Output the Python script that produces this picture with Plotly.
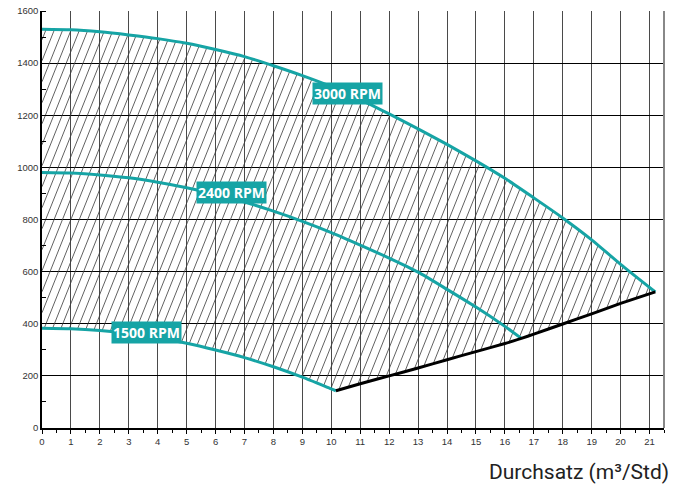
import plotly.graph_objects as go

# ---------------- data ----------------
q3000 = [0, 1, 2, 3, 4, 5, 6, 7, 8, 9, 10, 11, 12, 13, 14, 15, 16, 17, 18, 19, 20, 21.2]
h3000 = [1530, 1528, 1520, 1508, 1494, 1476, 1452, 1425, 1390, 1352, 1310, 1260, 1205, 1148, 1088, 1025, 958, 883, 806, 722, 628, 522]

q2400 = [0, 1, 2, 3, 4, 5, 6, 7, 8, 9, 10, 11, 12, 13, 14, 15, 16, 16.57]
h2400 = [980, 978, 971, 960, 943, 922, 897, 867, 832, 793, 750, 702, 652, 598, 532, 464, 390, 344]

q1500 = [0, 1, 2, 3, 4, 5, 6, 7, 8, 9, 10, 10.16]
h1500 = [383, 381, 374, 362, 346, 325, 299, 270, 235, 195, 150, 143]

q_limit = [10.16, 11, 12, 13, 14, 15, 16, 16.57, 17, 18, 19, 20, 21.2]
h_limit = [143, 170, 200, 230, 262, 293, 324, 344, 360, 399, 438, 478, 522]

curve_labels = ["3000 RPM", "2400 RPM", "1500 RPM"]
label_q = [10.55, 6.56, 3.6]
label_h = [1285, 902, 365]

x_ticks = list(range(0, 22))
y_ticks = [0, 200, 400, 600, 800, 1000, 1200, 1400, 1600]
x_title = "Durchsatz (m³/Std)"

# ---------------- styles ----------------
TEAL = "#16a4a5"
X_MAX, Y_MAX = 21.5, 1600
ML, MR, MT, MB = 42, 23, 11, 57
W, H = 687, 485
PW, PH = W - ML - MR, H - MT - MB
sx, sy = PW / X_MAX, PH / Y_MAX  # px per data unit

# ---------------- hatched region (polygon built from the data) ----------------
poly = list(zip(q1500, h1500)) + list(zip(q_limit[1:], h_limit[1:])) + \
       list(zip(q3000[::-1][1:], h3000[::-1][1:]))
poly_px = [(x * sx, y * sy) for x, y in poly]
SLOPE = 2.5      # px up per px right
SPACING = 8.4    # horizontal px between hatch lines
us = [X - Y / SLOPE for X, Y in poly_px]
hx, hy = [], []
c = min(us) + SPACING / 2
while c < max(us):
    pts = []
    n = len(poly_px)
    for i in range(n):
        (X1, Y1), (X2, Y2) = poly_px[i], poly_px[(i + 1) % n]
        u1, u2 = us[i], us[(i + 1) % n]
        if (u1 - c) * (u2 - c) < 0:
            t = (c - u1) / (u2 - u1)
            pts.append((X1 + t * (X2 - X1), Y1 + t * (Y2 - Y1)))
    pts.sort(key=lambda p: p[1])
    for k in range(0, len(pts) - 1, 2):
        for X, Y in pts[k:k + 2]:
            hx.append(X / sx)
            hy.append(Y / sy)
        hx.append(None)
        hy.append(None)
    c += SPACING

fig = go.Figure()
fig.add_trace(go.Scatter(x=hx, y=hy, mode="lines",
                         line=dict(color="#3a3a3a", width=0.8),
                         hoverinfo="skip", showlegend=False))

for q, h in [(q3000, h3000), (q2400, h2400), (q1500, h1500)]:
    fig.add_trace(go.Scatter(x=q, y=h, mode="lines", line=dict(color=TEAL, width=3, shape="spline", smoothing=0.6),
                             showlegend=False))
fig.add_trace(go.Scatter(x=q_limit, y=h_limit, mode="lines", line=dict(color="black", width=3, shape="spline", smoothing=0.5),
                         showlegend=False))

for txt, q, h in zip(curve_labels, label_q, label_h):
    fig.add_annotation(x=q, y=h, text="<b>" + txt + "</b>", showarrow=False,
                       font=dict(family="Open Sans", size=14, color="white"),
                       bgcolor=TEAL, borderpad=1, xanchor="center", yanchor="middle")

fig.add_annotation(xref="paper", yref="paper", x=1.012, y=-0.106, text=x_title,
                   showarrow=False, xanchor="right", yanchor="middle",
                   font=dict(family="Roboto", size=21, color="#222"))

fig.update_xaxes(range=[0, X_MAX], tickvals=x_ticks, ticktext=[str(v) for v in x_ticks],
                 showgrid=True, gridcolor="#4a4a4a", gridwidth=1.3,
                 showline=True, linecolor="black", linewidth=1.5, mirror=False,
                 ticks="outside", ticklen=4, tickcolor="black", tickwidth=1,
                 minor=dict(dtick=0.5, ticks="outside", ticklen=3, tickcolor="black", showgrid=False),
                 tickfont=dict(family="Liberation Sans", size=9.5, color="#333"),
                 zeroline=False, fixedrange=True, automargin=False)
fig.update_yaxes(range=[0, Y_MAX], tickvals=y_ticks, ticktext=[str(v) for v in y_ticks],
                 showgrid=True, gridcolor="black", gridwidth=1,
                 showline=True, linecolor="black", linewidth=1.5,
                 ticks="", minor=dict(dtick=100, ticks="inside", ticklen=4, tickcolor="black", showgrid=False),
                 tickfont=dict(family="Liberation Sans", size=9.5, color="#333"),
                 zeroline=False, fixedrange=True, automargin=False)

# right frame edge
fig.add_shape(type="line", xref="paper", yref="paper", x0=1, x1=1, y0=0, y1=1,
              line=dict(color="#888", width=2))

fig.update_layout(width=W, height=H, margin=dict(l=ML, r=MR, t=MT, b=MB, autoexpand=False),
                  plot_bgcolor="white", paper_bgcolor="white", showlegend=False)

fig.write_html("out.html", config={"displayModeBar": False},
               post_script="document.body.style.margin='0';document.body.style.overflow='hidden';")
